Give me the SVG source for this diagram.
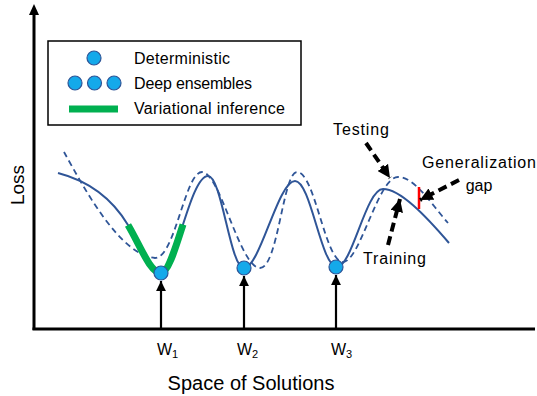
<svg xmlns="http://www.w3.org/2000/svg" width="537" height="396" viewBox="0 0 537 396">
<style>
text{font-family:"Liberation Sans",Arial,sans-serif;fill:#000}
.lbl{font-size:16px}
.curve{fill:none;stroke:#2F5597;stroke-width:2}
.dash{fill:none;stroke:#2F5597;stroke-width:1.8;stroke-dasharray:6,4}
.dot{fill:#14A9EA;stroke:#2F5597;stroke-width:1.2}
.axis{stroke:#000;stroke-width:3;fill:none}
.up{stroke:#000;stroke-width:2.2;fill:none}
.bdash{stroke:#000;stroke-width:4;stroke-dasharray:9,5;fill:none}
</style>
<defs>
<marker id="ah" viewBox="0 0 10 10" refX="10" refY="5" markerWidth="4.5" markerHeight="4.5" markerUnits="strokeWidth" orient="auto"><path d="M0,0L10,5L0,10z" fill="#000"/></marker>
<marker id="ahs" viewBox="0 0 10 10" refX="10" refY="5" markerWidth="3.2" markerHeight="3.2" markerUnits="strokeWidth" orient="auto"><path d="M0,0L10,5L0,10z" fill="#000"/></marker>
</defs>
<g id="axes">
<line class="axis" x1="34" y1="330" x2="34" y2="14"/>
<path d="M29,15L34,4L39,15z" fill="#000"/>
<line class="axis" x1="32.5" y1="329" x2="535" y2="329"/>
<text x="17" y="185" font-size="19" text-anchor="middle" transform="rotate(-90 17 185)" dominant-baseline="central">Loss</text>
<text x="251" y="390" font-size="20" text-anchor="middle">Space of Solutions</text>
</g>
<g id="legend">
<rect x="48" y="41" width="253" height="84" fill="none" stroke="#000" stroke-width="1.5"/>
<circle class="dot" cx="94" cy="58" r="7"/>
<circle class="dot" cx="75" cy="83" r="7"/>
<circle class="dot" cx="94.5" cy="83" r="7"/>
<circle class="dot" cx="114" cy="83" r="7"/>
<line x1="69" y1="109" x2="118" y2="109" stroke="#00B050" stroke-width="7"/>
<text class="lbl" x="134" y="64" textLength="96">Deterministic</text>
<text class="lbl" x="134" y="89" textLength="118">Deep ensembles</text>
<text class="lbl" x="134" y="114" textLength="151">Variational inference</text>
</g>
<g id="curves">
<path id="training-curve" class="curve" d="M58,173 C85,180 110,195 128,225 C140,245 150,273 161,273 C175,273 190,176 208,176 C222,176 230,268 244,268 C260,268 278,181 295,181 C311,181 321,267 337,267 C352,267 366,189 383,189 C400,189 425,215 449,243"/>
<path id="testing-curve" class="dash" d="M64,152 C85,190 120,255 155,258 C175,258 185,172 202,172 C220,172 240,268 260,268 C278,268 283,172 297,172 C315,172 325,262 343,262 C360,262 378,177 398,177 C415,177 432,205 448,223"/>
<path id="vi" d="M128,225 C140,245 150,273 161,273 C168,273 175.25,248.75 183,224.5" fill="none" stroke="#00B050" stroke-width="7"/>
<line id="gap" x1="419" y1="187" x2="419" y2="209" stroke="#FF0000" stroke-width="2.5"/>
</g>
<g id="connectors">
<line class="up" x1="161" y1="329" x2="161" y2="281" marker-end="url(#ah)"/>
<line class="up" x1="244" y1="329" x2="244" y2="276" marker-end="url(#ah)"/>
<line class="up" x1="336" y1="329" x2="336" y2="275" marker-end="url(#ah)"/>
<line class="bdash" x1="366" y1="143" x2="390" y2="178" marker-end="url(#ahs)"/>
<line class="bdash" x1="459" y1="180" x2="420" y2="200" marker-end="url(#ahs)"/>
<line class="bdash" x1="388" y1="245" x2="400" y2="199" marker-end="url(#ahs)"/>
</g>
<g id="minima">
<circle class="dot" cx="161" cy="273" r="7"/>
<circle class="dot" cx="244" cy="268" r="7"/>
<circle class="dot" cx="336" cy="267" r="7"/>
</g>
<g id="labels">
<text class="lbl" x="333" y="135" textLength="56">Testing</text>
<text class="lbl" x="479" y="168" text-anchor="middle" textLength="114">Generalization</text>
<text class="lbl" x="479" y="191" text-anchor="middle">gap</text>
<text class="lbl" x="363" y="264" textLength="63">Training</text>
<text class="lbl" x="157" y="355">W<tspan font-size="11" dy="3">1</tspan></text>
<text class="lbl" x="237" y="355">W<tspan font-size="11" dy="3">2</tspan></text>
<text class="lbl" x="331" y="355">W<tspan font-size="11" dy="3">3</tspan></text>
</g>
</svg>
